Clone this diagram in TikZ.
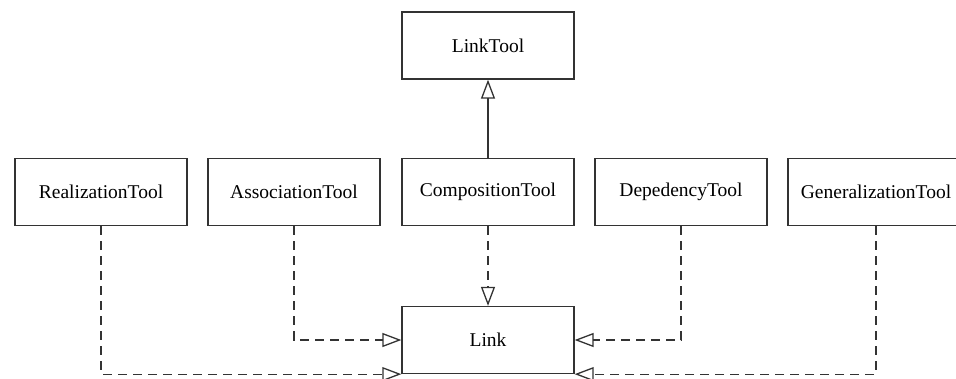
\documentclass[tikz,border=0pt]{standalone}
\usepackage{fontspec}
\setmainfont{Liberation Serif}
\usetikzlibrary{arrows.meta}
\definecolor{ink}{HTML}{333333}
\tikzset{
  classbox/.style={draw=ink, line width=1.3pt, fill=white, minimum width=172pt,
    minimum height=67pt, inner sep=0pt, font=\fontsize{19.5pt}{22pt}\selectfont, text=black},
  inherit/.style={draw=ink, line width=1.3pt,
    -{Triangle[open, length=19pt, width=14pt, line width=1.3pt]}},
  realize/.style={inherit, dash pattern=on 9pt off 6pt},
}
\begin{document}
\begin{tikzpicture}[x=1pt, y=-1pt]
  \useasboundingbox (0,0) rectangle (956,378);
  % class boxes
  \node[classbox] (linktool) at (488,45.5) {LinkTool};
  \node[classbox] (real)  at (101,192) {RealizationTool};
  \node[classbox] (assoc) at (294,192) {AssociationTool};
  \node[classbox] (comp)  at (488,192) {CompositionTool};
  \node[classbox] (depd)  at (681,192) {DepedencyTool};
  \node[classbox, minimum width=176pt] (gen) at (876,192) {GeneralizationTool};
  \node[classbox] (link)  at (488,340) {Link};
  % generalization
  \draw[inherit] (comp.north) -- (linktool.south);
  % realizations into Link
  \draw[realize] (comp.south) -- (link.north);
  \draw[realize] (real.south) |- (link.south west);
  \draw[realize] (assoc.south) |- (link.west);
  \draw[realize] (depd.south) |- (link.east);
  \draw[realize] (gen.south) |- (link.south east);
\end{tikzpicture}
\end{document}
